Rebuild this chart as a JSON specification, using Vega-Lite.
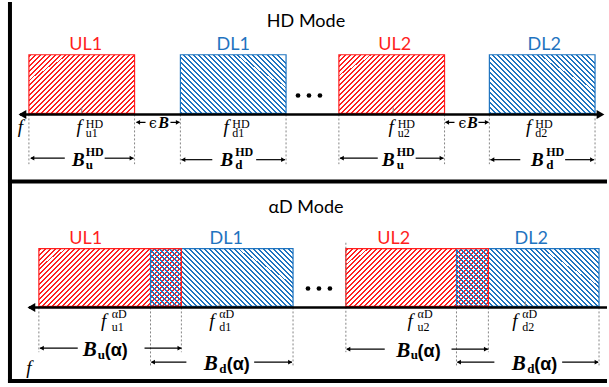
{
"$schema": "https://vega.github.io/schema/vega-lite/v6.json",
"width": 609, "height": 387,
"autosize": {"type": "fit", "contains": "padding"},
"padding": 0,
"background": "white",
"config": {"view": {"stroke": null}, "axis": {"disable": true}, "legend": {"disable": true}},
"datasets": {
"hdBoxes": [
{"link":"DL","x":181,"x2":287,"y":53,"y2":112},
{"link":"DL","x":491,"x2":597,"y":53,"y2":112},
{"link":"UL","x":29,"x2":135,"y":53,"y2":112},
{"link":"UL","x":340,"x2":446,"y":53,"y2":112}],
"adBoxes": [
{"link":"DL","x":151,"x2":294,"y":248,"y2":306},
{"link":"DL","x":458,"x2":601,"y":248,"y2":306},
{"link":"UL","x":39,"x2":182,"y":248,"y2":306},
{"link":"UL","x":347,"x2":490,"y":248,"y2":306}],
"frame": [
{"x":10,"x2":10,"y":0,"y2":383},
{"x":8,"x2":609,"y":180.5,"y2":180.5},
{"x":8,"x2":609,"y":381,"y2":381}],
"axisLines": [
{"x":20,"x2":604,"y":113,"y2":113},
{"x":29,"x2":609,"y":307,"y2":307}],
"dashes": [
{"x":29,"x2":29,"y":113,"y2":163},{"x":135,"x2":135,"y":113,"y2":163},
{"x":181,"x2":181,"y":113,"y2":163},{"x":287,"x2":287,"y":113,"y2":163},
{"x":340,"x2":340,"y":113,"y2":163},{"x":446,"x2":446,"y":113,"y2":163},
{"x":491,"x2":491,"y":113,"y2":163},{"x":597,"x2":597,"y":113,"y2":163},
{"x":39,"x2":39,"y":307,"y2":352},{"x":151,"x2":151,"y":307,"y2":366},
{"x":182,"x2":182,"y":307,"y2":352},{"x":294,"x2":294,"y":307,"y2":366},
{"x":347,"x2":347,"y":242,"y2":352},{"x":458,"x2":458,"y":307,"y2":366},
{"x":490,"x2":490,"y":307,"y2":352},{"x":601,"x2":601,"y":307,"y2":366}],
"ticks": [
{"x":82,"x2":82,"y":106,"y2":112},{"x":394.5,"x2":394.5,"y":106,"y2":112},{"x":543,"x2":543,"y":106,"y2":112},
{"x":220,"x2":220,"y":301,"y2":306},{"x":527,"x2":527,"y":301,"y2":306}],
"arrows": [
{"x":31,"x2":65,"y":157,"y2":157},{"x":105,"x2":134,"y":157,"y2":157},
{"x":182,"x2":213,"y":158.5,"y2":158.5},{"x":257,"x2":286,"y":158.5,"y2":158.5},
{"x":341,"x2":379,"y":157,"y2":157},{"x":417,"x2":445,"y":157,"y2":157},
{"x":492,"x2":522,"y":158.5,"y2":158.5},{"x":567,"x2":596,"y":158.5,"y2":158.5},
{"x":137,"x2":146,"y":121,"y2":121},{"x":171,"x2":180,"y":121,"y2":121},
{"x":447,"x2":456,"y":121,"y2":121},{"x":480,"x2":490,"y":121,"y2":121},
{"x":40,"x2":78,"y":348,"y2":348},{"x":145,"x2":182,"y":348,"y2":348},
{"x":152,"x2":187,"y":362,"y2":362},{"x":255,"x2":293,"y":362,"y2":362},
{"x":348,"x2":386,"y":349,"y2":349},{"x":453,"x2":490,"y":349,"y2":349},
{"x":459,"x2":496,"y":362,"y2":362},{"x":564,"x2":600,"y":362,"y2":362}],
"bigHeads": [
{"x":22.5,"y":113,"dir":"left"},{"x":602.5,"y":113,"dir":"right"},{"x":31.5,"y":307,"dir":"left"}],
"smallHeads": [
{"x":32.4,"y":157,"dir":"left"},{"x":132.1,"y":157,"dir":"right"},
{"x":183.9,"y":158.5,"dir":"left"},{"x":284.1,"y":158.5,"dir":"right"},
{"x":342.9,"y":157,"dir":"left"},{"x":443.1,"y":157,"dir":"right"},
{"x":493.9,"y":158.5,"dir":"left"},{"x":594.1,"y":158.5,"dir":"right"},
{"x":138.5,"y":121,"dir":"left"},{"x":178.5,"y":121,"dir":"right"},
{"x":448.5,"y":121,"dir":"left"},{"x":488.5,"y":121,"dir":"right"},
{"x":41.9,"y":348,"dir":"left"},{"x":180.1,"y":348,"dir":"right"},
{"x":153.4,"y":362,"dir":"left"},{"x":291.1,"y":362,"dir":"right"},
{"x":349.4,"y":349,"dir":"left"},{"x":487.6,"y":349,"dir":"right"},
{"x":460.4,"y":362,"dir":"left"},{"x":598.6,"y":362,"dir":"right"}],
"dots": [
{"x":299,"y":94},{"x":310,"y":94},{"x":321,"y":94},
{"x":309,"y":288},{"x":320,"y":288},{"x":331,"y":288}],
"titles": [
{"text":"HD Mode","x":307,"y":25},{"text":"αD Mode","x":307,"y":212}],
"linkLabels": [
{"text":"UL1","link":"UL","x":86,"y":48},{"text":"DL1","link":"DL","x":234,"y":48},
{"text":"UL2","link":"UL","x":396,"y":48},{"text":"DL2","link":"DL","x":546,"y":48},
{"text":"UL1","link":"UL","x":86,"y":243},{"text":"DL1","link":"DL","x":227,"y":243},
{"text":"UL2","link":"UL","x":395,"y":243},{"text":"DL2","link":"DL","x":533,"y":243}],
"axisF": [{"text":"f","x":20.5,"y":132},{"text":"f","x":29,"y":374}],
"fMain": [
{"text":"f","x":79.5,"y":132},{"text":"f","x":227,"y":132},{"text":"f","x":392.5,"y":132},{"text":"f","x":530.5,"y":132},
{"text":"f","x":104,"y":327},{"text":"f","x":212.5,"y":327},{"text":"f","x":411.5,"y":327},{"text":"f","x":516.5,"y":327}],
"fSup": [
{"text":"HD","x":86,"y":126.5},{"text":"HD","x":233,"y":126.5},{"text":"HD","x":399,"y":126.5},{"text":"HD","x":537,"y":126.5},
{"text":"αD","x":112,"y":318},{"text":"αD","x":220,"y":318},{"text":"αD","x":419,"y":318},{"text":"αD","x":524,"y":318}],
"fSub": [
{"text":"u1","x":86,"y":136},{"text":"d1","x":233,"y":136},{"text":"u2","x":399,"y":136},{"text":"d2","x":537,"y":136},
{"text":"u1","x":112,"y":330.5},{"text":"d1","x":220,"y":330.5},{"text":"u2","x":419,"y":330.5},{"text":"d2","x":524,"y":330.5}],
"bigBhd": [
{"text":"B","x":78.5,"y":165},{"text":"B","x":227.5,"y":165},{"text":"B","x":389.5,"y":165},{"text":"B","x":539,"y":165}],
"bSup": [
{"text":"HD","x":86,"y":155},{"text":"HD","x":236,"y":155},{"text":"HD","x":398,"y":155},{"text":"HD","x":548,"y":155}],
"bSub": [
{"text":"u","x":86,"y":167.5},{"text":"d","x":236,"y":167.5},{"text":"u","x":398,"y":167.5},{"text":"d","x":548,"y":167.5},
{"text":"u","x":98,"y":358.5},{"text":"d","x":220,"y":372.5},{"text":"u","x":412,"y":359},{"text":"d","x":529,"y":372.5}],
"bigBad": [
{"text":"B","x":90,"y":356},{"text":"B","x":211.5,"y":370},{"text":"B","x":404.5,"y":356.5},{"text":"B","x":520.5,"y":370}],
"alphaParen": [
{"text":"(α)","x":105,"y":356},{"text":"(α)","x":227.5,"y":370},{"text":"(α)","x":419,"y":356.5},{"text":"(α)","x":536,"y":370}],
"eps": [{"text":"ϵ","x":153.5,"y":127},{"text":"ϵ","x":464,"y":127}],
"epsB": [{"text":"B","x":164,"y":127},{"text":"B","x":474,"y":127}]
},
"encoding": {
"x": {"field": "x", "type": "quantitative", "scale": {"domain": [0, 609], "nice": false, "zero": false}},
"y": {"field": "y", "type": "quantitative", "scale": {"domain": [0, 387], "reverse": true, "nice": false, "zero": false}}
},
"layer": [
{"data": {"name": "hdBoxes"}, "transform": [{"filter": "datum.link == 'UL'"}],
 "mark": {"type": "rect", "strokeWidth": 0, "fill": {"gradient": "linear", "x1": 0, "y1": 0, "x2": 1.1524, "y2": 0.64143, "stops": [
{"offset":0.003125,"color":"transparent"},{"offset":0.003125,"color":"#ff1f1f"},{"offset":0.015625,"color":"#ff1f1f"},{"offset":0.015625,"color":"transparent"},
{"offset":0.034375,"color":"transparent"},{"offset":0.034375,"color":"#ff1f1f"},{"offset":0.046875,"color":"#ff1f1f"},{"offset":0.046875,"color":"transparent"},
{"offset":0.065625,"color":"transparent"},{"offset":0.065625,"color":"#ff1f1f"},{"offset":0.078125,"color":"#ff1f1f"},{"offset":0.078125,"color":"transparent"},
{"offset":0.096875,"color":"transparent"},{"offset":0.096875,"color":"#ff1f1f"},{"offset":0.109375,"color":"#ff1f1f"},{"offset":0.109375,"color":"transparent"},
{"offset":0.128125,"color":"transparent"},{"offset":0.128125,"color":"#ff1f1f"},{"offset":0.140625,"color":"#ff1f1f"},{"offset":0.140625,"color":"transparent"},
{"offset":0.159375,"color":"transparent"},{"offset":0.159375,"color":"#ff1f1f"},{"offset":0.171875,"color":"#ff1f1f"},{"offset":0.171875,"color":"transparent"},
{"offset":0.190625,"color":"transparent"},{"offset":0.190625,"color":"#ff1f1f"},{"offset":0.203125,"color":"#ff1f1f"},{"offset":0.203125,"color":"transparent"},
{"offset":0.221875,"color":"transparent"},{"offset":0.221875,"color":"#ff1f1f"},{"offset":0.234375,"color":"#ff1f1f"},{"offset":0.234375,"color":"transparent"},
{"offset":0.253125,"color":"transparent"},{"offset":0.253125,"color":"#ff1f1f"},{"offset":0.265625,"color":"#ff1f1f"},{"offset":0.265625,"color":"transparent"},
{"offset":0.284375,"color":"transparent"},{"offset":0.284375,"color":"#ff1f1f"},{"offset":0.296875,"color":"#ff1f1f"},{"offset":0.296875,"color":"transparent"},
{"offset":0.315625,"color":"transparent"},{"offset":0.315625,"color":"#ff1f1f"},{"offset":0.328125,"color":"#ff1f1f"},{"offset":0.328125,"color":"transparent"},
{"offset":0.346875,"color":"transparent"},{"offset":0.346875,"color":"#ff1f1f"},{"offset":0.359375,"color":"#ff1f1f"},{"offset":0.359375,"color":"transparent"},
{"offset":0.378125,"color":"transparent"},{"offset":0.378125,"color":"#ff1f1f"},{"offset":0.390625,"color":"#ff1f1f"},{"offset":0.390625,"color":"transparent"},
{"offset":0.409375,"color":"transparent"},{"offset":0.409375,"color":"#ff1f1f"},{"offset":0.421875,"color":"#ff1f1f"},{"offset":0.421875,"color":"transparent"},
{"offset":0.440625,"color":"transparent"},{"offset":0.440625,"color":"#ff1f1f"},{"offset":0.453125,"color":"#ff1f1f"},{"offset":0.453125,"color":"transparent"},
{"offset":0.471875,"color":"transparent"},{"offset":0.471875,"color":"#ff1f1f"},{"offset":0.484375,"color":"#ff1f1f"},{"offset":0.484375,"color":"transparent"},
{"offset":0.503125,"color":"transparent"},{"offset":0.503125,"color":"#ff1f1f"},{"offset":0.515625,"color":"#ff1f1f"},{"offset":0.515625,"color":"transparent"},
{"offset":0.534375,"color":"transparent"},{"offset":0.534375,"color":"#ff1f1f"},{"offset":0.546875,"color":"#ff1f1f"},{"offset":0.546875,"color":"transparent"},
{"offset":0.565625,"color":"transparent"},{"offset":0.565625,"color":"#ff1f1f"},{"offset":0.578125,"color":"#ff1f1f"},{"offset":0.578125,"color":"transparent"},
{"offset":0.596875,"color":"transparent"},{"offset":0.596875,"color":"#ff1f1f"},{"offset":0.609375,"color":"#ff1f1f"},{"offset":0.609375,"color":"transparent"},
{"offset":0.628125,"color":"transparent"},{"offset":0.628125,"color":"#ff1f1f"},{"offset":0.640625,"color":"#ff1f1f"},{"offset":0.640625,"color":"transparent"},
{"offset":0.659375,"color":"transparent"},{"offset":0.659375,"color":"#ff1f1f"},{"offset":0.671875,"color":"#ff1f1f"},{"offset":0.671875,"color":"transparent"},
{"offset":0.690625,"color":"transparent"},{"offset":0.690625,"color":"#ff1f1f"},{"offset":0.703125,"color":"#ff1f1f"},{"offset":0.703125,"color":"transparent"},
{"offset":0.721875,"color":"transparent"},{"offset":0.721875,"color":"#ff1f1f"},{"offset":0.734375,"color":"#ff1f1f"},{"offset":0.734375,"color":"transparent"},
{"offset":0.753125,"color":"transparent"},{"offset":0.753125,"color":"#ff1f1f"},{"offset":0.765625,"color":"#ff1f1f"},{"offset":0.765625,"color":"transparent"},
{"offset":0.784375,"color":"transparent"},{"offset":0.784375,"color":"#ff1f1f"},{"offset":0.796875,"color":"#ff1f1f"},{"offset":0.796875,"color":"transparent"},
{"offset":0.815625,"color":"transparent"},{"offset":0.815625,"color":"#ff1f1f"},{"offset":0.828125,"color":"#ff1f1f"},{"offset":0.828125,"color":"transparent"},
{"offset":0.846875,"color":"transparent"},{"offset":0.846875,"color":"#ff1f1f"},{"offset":0.859375,"color":"#ff1f1f"},{"offset":0.859375,"color":"transparent"},
{"offset":0.878125,"color":"transparent"},{"offset":0.878125,"color":"#ff1f1f"},{"offset":0.890625,"color":"#ff1f1f"},{"offset":0.890625,"color":"transparent"},
{"offset":0.909375,"color":"transparent"},{"offset":0.909375,"color":"#ff1f1f"},{"offset":0.921875,"color":"#ff1f1f"},{"offset":0.921875,"color":"transparent"},
{"offset":0.940625,"color":"transparent"},{"offset":0.940625,"color":"#ff1f1f"},{"offset":0.953125,"color":"#ff1f1f"},{"offset":0.953125,"color":"transparent"},
{"offset":0.971875,"color":"transparent"},{"offset":0.971875,"color":"#ff1f1f"},{"offset":0.984375,"color":"#ff1f1f"},{"offset":0.984375,"color":"transparent"}]}},
 "encoding": {"x2": {"field": "x2"}, "y2": {"field": "y2"}}},
{"data": {"name": "hdBoxes"}, "transform": [{"filter": "datum.link == 'DL'"}],
 "mark": {"type": "rect", "strokeWidth": 0, "fill": {"gradient": "linear", "x1": 0, "y1": 1, "x2": 1.1524, "y2": 0.35857, "stops": [
{"offset":0.003125,"color":"transparent"},{"offset":0.003125,"color":"#1f74c0"},{"offset":0.015625,"color":"#1f74c0"},{"offset":0.015625,"color":"transparent"},
{"offset":0.034375,"color":"transparent"},{"offset":0.034375,"color":"#1f74c0"},{"offset":0.046875,"color":"#1f74c0"},{"offset":0.046875,"color":"transparent"},
{"offset":0.065625,"color":"transparent"},{"offset":0.065625,"color":"#1f74c0"},{"offset":0.078125,"color":"#1f74c0"},{"offset":0.078125,"color":"transparent"},
{"offset":0.096875,"color":"transparent"},{"offset":0.096875,"color":"#1f74c0"},{"offset":0.109375,"color":"#1f74c0"},{"offset":0.109375,"color":"transparent"},
{"offset":0.128125,"color":"transparent"},{"offset":0.128125,"color":"#1f74c0"},{"offset":0.140625,"color":"#1f74c0"},{"offset":0.140625,"color":"transparent"},
{"offset":0.159375,"color":"transparent"},{"offset":0.159375,"color":"#1f74c0"},{"offset":0.171875,"color":"#1f74c0"},{"offset":0.171875,"color":"transparent"},
{"offset":0.190625,"color":"transparent"},{"offset":0.190625,"color":"#1f74c0"},{"offset":0.203125,"color":"#1f74c0"},{"offset":0.203125,"color":"transparent"},
{"offset":0.221875,"color":"transparent"},{"offset":0.221875,"color":"#1f74c0"},{"offset":0.234375,"color":"#1f74c0"},{"offset":0.234375,"color":"transparent"},
{"offset":0.253125,"color":"transparent"},{"offset":0.253125,"color":"#1f74c0"},{"offset":0.265625,"color":"#1f74c0"},{"offset":0.265625,"color":"transparent"},
{"offset":0.284375,"color":"transparent"},{"offset":0.284375,"color":"#1f74c0"},{"offset":0.296875,"color":"#1f74c0"},{"offset":0.296875,"color":"transparent"},
{"offset":0.315625,"color":"transparent"},{"offset":0.315625,"color":"#1f74c0"},{"offset":0.328125,"color":"#1f74c0"},{"offset":0.328125,"color":"transparent"},
{"offset":0.346875,"color":"transparent"},{"offset":0.346875,"color":"#1f74c0"},{"offset":0.359375,"color":"#1f74c0"},{"offset":0.359375,"color":"transparent"},
{"offset":0.378125,"color":"transparent"},{"offset":0.378125,"color":"#1f74c0"},{"offset":0.390625,"color":"#1f74c0"},{"offset":0.390625,"color":"transparent"},
{"offset":0.409375,"color":"transparent"},{"offset":0.409375,"color":"#1f74c0"},{"offset":0.421875,"color":"#1f74c0"},{"offset":0.421875,"color":"transparent"},
{"offset":0.440625,"color":"transparent"},{"offset":0.440625,"color":"#1f74c0"},{"offset":0.453125,"color":"#1f74c0"},{"offset":0.453125,"color":"transparent"},
{"offset":0.471875,"color":"transparent"},{"offset":0.471875,"color":"#1f74c0"},{"offset":0.484375,"color":"#1f74c0"},{"offset":0.484375,"color":"transparent"},
{"offset":0.503125,"color":"transparent"},{"offset":0.503125,"color":"#1f74c0"},{"offset":0.515625,"color":"#1f74c0"},{"offset":0.515625,"color":"transparent"},
{"offset":0.534375,"color":"transparent"},{"offset":0.534375,"color":"#1f74c0"},{"offset":0.546875,"color":"#1f74c0"},{"offset":0.546875,"color":"transparent"},
{"offset":0.565625,"color":"transparent"},{"offset":0.565625,"color":"#1f74c0"},{"offset":0.578125,"color":"#1f74c0"},{"offset":0.578125,"color":"transparent"},
{"offset":0.596875,"color":"transparent"},{"offset":0.596875,"color":"#1f74c0"},{"offset":0.609375,"color":"#1f74c0"},{"offset":0.609375,"color":"transparent"},
{"offset":0.628125,"color":"transparent"},{"offset":0.628125,"color":"#1f74c0"},{"offset":0.640625,"color":"#1f74c0"},{"offset":0.640625,"color":"transparent"},
{"offset":0.659375,"color":"transparent"},{"offset":0.659375,"color":"#1f74c0"},{"offset":0.671875,"color":"#1f74c0"},{"offset":0.671875,"color":"transparent"},
{"offset":0.690625,"color":"transparent"},{"offset":0.690625,"color":"#1f74c0"},{"offset":0.703125,"color":"#1f74c0"},{"offset":0.703125,"color":"transparent"},
{"offset":0.721875,"color":"transparent"},{"offset":0.721875,"color":"#1f74c0"},{"offset":0.734375,"color":"#1f74c0"},{"offset":0.734375,"color":"transparent"},
{"offset":0.753125,"color":"transparent"},{"offset":0.753125,"color":"#1f74c0"},{"offset":0.765625,"color":"#1f74c0"},{"offset":0.765625,"color":"transparent"},
{"offset":0.784375,"color":"transparent"},{"offset":0.784375,"color":"#1f74c0"},{"offset":0.796875,"color":"#1f74c0"},{"offset":0.796875,"color":"transparent"},
{"offset":0.815625,"color":"transparent"},{"offset":0.815625,"color":"#1f74c0"},{"offset":0.828125,"color":"#1f74c0"},{"offset":0.828125,"color":"transparent"},
{"offset":0.846875,"color":"transparent"},{"offset":0.846875,"color":"#1f74c0"},{"offset":0.859375,"color":"#1f74c0"},{"offset":0.859375,"color":"transparent"},
{"offset":0.878125,"color":"transparent"},{"offset":0.878125,"color":"#1f74c0"},{"offset":0.890625,"color":"#1f74c0"},{"offset":0.890625,"color":"transparent"},
{"offset":0.909375,"color":"transparent"},{"offset":0.909375,"color":"#1f74c0"},{"offset":0.921875,"color":"#1f74c0"},{"offset":0.921875,"color":"transparent"},
{"offset":0.940625,"color":"transparent"},{"offset":0.940625,"color":"#1f74c0"},{"offset":0.953125,"color":"#1f74c0"},{"offset":0.953125,"color":"transparent"},
{"offset":0.971875,"color":"transparent"},{"offset":0.971875,"color":"#1f74c0"},{"offset":0.984375,"color":"#1f74c0"},{"offset":0.984375,"color":"transparent"}]}},
 "encoding": {"x2": {"field": "x2"}, "y2": {"field": "y2"}}},
{"data": {"name": "hdBoxes"},
 "mark": {"type": "rect", "filled": false, "strokeWidth": 1.2},
 "encoding": {"x2": {"field": "x2"}, "y2": {"field": "y2"},
   "color": {"field": "link", "type": "nominal", "scale": {"domain": ["UL", "DL"], "range": ["#ff1f1f", "#1f74c0"]}}}},
{"data": {"name": "adBoxes"}, "transform": [{"filter": "datum.link == 'UL'"}],
 "mark": {"type": "rect", "strokeWidth": 0, "fill": {"gradient": "linear", "x1": 0, "y1": 0, "x2": 1.20103, "y2": 0.48713, "stops": [
{"offset":0.0025,"color":"transparent"},{"offset":0.0025,"color":"#ff1f1f"},{"offset":0.0125,"color":"#ff1f1f"},{"offset":0.0125,"color":"transparent"},
{"offset":0.0275,"color":"transparent"},{"offset":0.0275,"color":"#ff1f1f"},{"offset":0.0375,"color":"#ff1f1f"},{"offset":0.0375,"color":"transparent"},
{"offset":0.0525,"color":"transparent"},{"offset":0.0525,"color":"#ff1f1f"},{"offset":0.0625,"color":"#ff1f1f"},{"offset":0.0625,"color":"transparent"},
{"offset":0.0775,"color":"transparent"},{"offset":0.0775,"color":"#ff1f1f"},{"offset":0.0875,"color":"#ff1f1f"},{"offset":0.0875,"color":"transparent"},
{"offset":0.1025,"color":"transparent"},{"offset":0.1025,"color":"#ff1f1f"},{"offset":0.1125,"color":"#ff1f1f"},{"offset":0.1125,"color":"transparent"},
{"offset":0.1275,"color":"transparent"},{"offset":0.1275,"color":"#ff1f1f"},{"offset":0.1375,"color":"#ff1f1f"},{"offset":0.1375,"color":"transparent"},
{"offset":0.1525,"color":"transparent"},{"offset":0.1525,"color":"#ff1f1f"},{"offset":0.1625,"color":"#ff1f1f"},{"offset":0.1625,"color":"transparent"},
{"offset":0.1775,"color":"transparent"},{"offset":0.1775,"color":"#ff1f1f"},{"offset":0.1875,"color":"#ff1f1f"},{"offset":0.1875,"color":"transparent"},
{"offset":0.2025,"color":"transparent"},{"offset":0.2025,"color":"#ff1f1f"},{"offset":0.2125,"color":"#ff1f1f"},{"offset":0.2125,"color":"transparent"},
{"offset":0.2275,"color":"transparent"},{"offset":0.2275,"color":"#ff1f1f"},{"offset":0.2375,"color":"#ff1f1f"},{"offset":0.2375,"color":"transparent"},
{"offset":0.2525,"color":"transparent"},{"offset":0.2525,"color":"#ff1f1f"},{"offset":0.2625,"color":"#ff1f1f"},{"offset":0.2625,"color":"transparent"},
{"offset":0.2775,"color":"transparent"},{"offset":0.2775,"color":"#ff1f1f"},{"offset":0.2875,"color":"#ff1f1f"},{"offset":0.2875,"color":"transparent"},
{"offset":0.3025,"color":"transparent"},{"offset":0.3025,"color":"#ff1f1f"},{"offset":0.3125,"color":"#ff1f1f"},{"offset":0.3125,"color":"transparent"},
{"offset":0.3275,"color":"transparent"},{"offset":0.3275,"color":"#ff1f1f"},{"offset":0.3375,"color":"#ff1f1f"},{"offset":0.3375,"color":"transparent"},
{"offset":0.3525,"color":"transparent"},{"offset":0.3525,"color":"#ff1f1f"},{"offset":0.3625,"color":"#ff1f1f"},{"offset":0.3625,"color":"transparent"},
{"offset":0.3775,"color":"transparent"},{"offset":0.3775,"color":"#ff1f1f"},{"offset":0.3875,"color":"#ff1f1f"},{"offset":0.3875,"color":"transparent"},
{"offset":0.4025,"color":"transparent"},{"offset":0.4025,"color":"#ff1f1f"},{"offset":0.4125,"color":"#ff1f1f"},{"offset":0.4125,"color":"transparent"},
{"offset":0.4275,"color":"transparent"},{"offset":0.4275,"color":"#ff1f1f"},{"offset":0.4375,"color":"#ff1f1f"},{"offset":0.4375,"color":"transparent"},
{"offset":0.4525,"color":"transparent"},{"offset":0.4525,"color":"#ff1f1f"},{"offset":0.4625,"color":"#ff1f1f"},{"offset":0.4625,"color":"transparent"},
{"offset":0.4775,"color":"transparent"},{"offset":0.4775,"color":"#ff1f1f"},{"offset":0.4875,"color":"#ff1f1f"},{"offset":0.4875,"color":"transparent"},
{"offset":0.5025,"color":"transparent"},{"offset":0.5025,"color":"#ff1f1f"},{"offset":0.5125,"color":"#ff1f1f"},{"offset":0.5125,"color":"transparent"},
{"offset":0.5275,"color":"transparent"},{"offset":0.5275,"color":"#ff1f1f"},{"offset":0.5375,"color":"#ff1f1f"},{"offset":0.5375,"color":"transparent"},
{"offset":0.5525,"color":"transparent"},{"offset":0.5525,"color":"#ff1f1f"},{"offset":0.5625,"color":"#ff1f1f"},{"offset":0.5625,"color":"transparent"},
{"offset":0.5775,"color":"transparent"},{"offset":0.5775,"color":"#ff1f1f"},{"offset":0.5875,"color":"#ff1f1f"},{"offset":0.5875,"color":"transparent"},
{"offset":0.6025,"color":"transparent"},{"offset":0.6025,"color":"#ff1f1f"},{"offset":0.6125,"color":"#ff1f1f"},{"offset":0.6125,"color":"transparent"},
{"offset":0.6275,"color":"transparent"},{"offset":0.6275,"color":"#ff1f1f"},{"offset":0.6375,"color":"#ff1f1f"},{"offset":0.6375,"color":"transparent"},
{"offset":0.6525,"color":"transparent"},{"offset":0.6525,"color":"#ff1f1f"},{"offset":0.6625,"color":"#ff1f1f"},{"offset":0.6625,"color":"transparent"},
{"offset":0.6775,"color":"transparent"},{"offset":0.6775,"color":"#ff1f1f"},{"offset":0.6875,"color":"#ff1f1f"},{"offset":0.6875,"color":"transparent"},
{"offset":0.7025,"color":"transparent"},{"offset":0.7025,"color":"#ff1f1f"},{"offset":0.7125,"color":"#ff1f1f"},{"offset":0.7125,"color":"transparent"},
{"offset":0.7275,"color":"transparent"},{"offset":0.7275,"color":"#ff1f1f"},{"offset":0.7375,"color":"#ff1f1f"},{"offset":0.7375,"color":"transparent"},
{"offset":0.7525,"color":"transparent"},{"offset":0.7525,"color":"#ff1f1f"},{"offset":0.7625,"color":"#ff1f1f"},{"offset":0.7625,"color":"transparent"},
{"offset":0.7775,"color":"transparent"},{"offset":0.7775,"color":"#ff1f1f"},{"offset":0.7875,"color":"#ff1f1f"},{"offset":0.7875,"color":"transparent"},
{"offset":0.8025,"color":"transparent"},{"offset":0.8025,"color":"#ff1f1f"},{"offset":0.8125,"color":"#ff1f1f"},{"offset":0.8125,"color":"transparent"},
{"offset":0.8275,"color":"transparent"},{"offset":0.8275,"color":"#ff1f1f"},{"offset":0.8375,"color":"#ff1f1f"},{"offset":0.8375,"color":"transparent"},
{"offset":0.8525,"color":"transparent"},{"offset":0.8525,"color":"#ff1f1f"},{"offset":0.8625,"color":"#ff1f1f"},{"offset":0.8625,"color":"transparent"},
{"offset":0.8775,"color":"transparent"},{"offset":0.8775,"color":"#ff1f1f"},{"offset":0.8875,"color":"#ff1f1f"},{"offset":0.8875,"color":"transparent"},
{"offset":0.9025,"color":"transparent"},{"offset":0.9025,"color":"#ff1f1f"},{"offset":0.9125,"color":"#ff1f1f"},{"offset":0.9125,"color":"transparent"},
{"offset":0.9275,"color":"transparent"},{"offset":0.9275,"color":"#ff1f1f"},{"offset":0.9375,"color":"#ff1f1f"},{"offset":0.9375,"color":"transparent"},
{"offset":0.9525,"color":"transparent"},{"offset":0.9525,"color":"#ff1f1f"},{"offset":0.9625,"color":"#ff1f1f"},{"offset":0.9625,"color":"transparent"},
{"offset":0.9775,"color":"transparent"},{"offset":0.9775,"color":"#ff1f1f"},{"offset":0.9875,"color":"#ff1f1f"},{"offset":0.9875,"color":"transparent"}]}},
 "encoding": {"x2": {"field": "x2"}, "y2": {"field": "y2"}}},
{"data": {"name": "adBoxes"}, "transform": [{"filter": "datum.link == 'DL'"}],
 "mark": {"type": "rect", "strokeWidth": 0, "fill": {"gradient": "linear", "x1": 0, "y1": 1, "x2": 1.20103, "y2": 0.51287, "stops": [
{"offset":0.0025,"color":"transparent"},{"offset":0.0025,"color":"#1f74c0"},{"offset":0.0125,"color":"#1f74c0"},{"offset":0.0125,"color":"transparent"},
{"offset":0.0275,"color":"transparent"},{"offset":0.0275,"color":"#1f74c0"},{"offset":0.0375,"color":"#1f74c0"},{"offset":0.0375,"color":"transparent"},
{"offset":0.0525,"color":"transparent"},{"offset":0.0525,"color":"#1f74c0"},{"offset":0.0625,"color":"#1f74c0"},{"offset":0.0625,"color":"transparent"},
{"offset":0.0775,"color":"transparent"},{"offset":0.0775,"color":"#1f74c0"},{"offset":0.0875,"color":"#1f74c0"},{"offset":0.0875,"color":"transparent"},
{"offset":0.1025,"color":"transparent"},{"offset":0.1025,"color":"#1f74c0"},{"offset":0.1125,"color":"#1f74c0"},{"offset":0.1125,"color":"transparent"},
{"offset":0.1275,"color":"transparent"},{"offset":0.1275,"color":"#1f74c0"},{"offset":0.1375,"color":"#1f74c0"},{"offset":0.1375,"color":"transparent"},
{"offset":0.1525,"color":"transparent"},{"offset":0.1525,"color":"#1f74c0"},{"offset":0.1625,"color":"#1f74c0"},{"offset":0.1625,"color":"transparent"},
{"offset":0.1775,"color":"transparent"},{"offset":0.1775,"color":"#1f74c0"},{"offset":0.1875,"color":"#1f74c0"},{"offset":0.1875,"color":"transparent"},
{"offset":0.2025,"color":"transparent"},{"offset":0.2025,"color":"#1f74c0"},{"offset":0.2125,"color":"#1f74c0"},{"offset":0.2125,"color":"transparent"},
{"offset":0.2275,"color":"transparent"},{"offset":0.2275,"color":"#1f74c0"},{"offset":0.2375,"color":"#1f74c0"},{"offset":0.2375,"color":"transparent"},
{"offset":0.2525,"color":"transparent"},{"offset":0.2525,"color":"#1f74c0"},{"offset":0.2625,"color":"#1f74c0"},{"offset":0.2625,"color":"transparent"},
{"offset":0.2775,"color":"transparent"},{"offset":0.2775,"color":"#1f74c0"},{"offset":0.2875,"color":"#1f74c0"},{"offset":0.2875,"color":"transparent"},
{"offset":0.3025,"color":"transparent"},{"offset":0.3025,"color":"#1f74c0"},{"offset":0.3125,"color":"#1f74c0"},{"offset":0.3125,"color":"transparent"},
{"offset":0.3275,"color":"transparent"},{"offset":0.3275,"color":"#1f74c0"},{"offset":0.3375,"color":"#1f74c0"},{"offset":0.3375,"color":"transparent"},
{"offset":0.3525,"color":"transparent"},{"offset":0.3525,"color":"#1f74c0"},{"offset":0.3625,"color":"#1f74c0"},{"offset":0.3625,"color":"transparent"},
{"offset":0.3775,"color":"transparent"},{"offset":0.3775,"color":"#1f74c0"},{"offset":0.3875,"color":"#1f74c0"},{"offset":0.3875,"color":"transparent"},
{"offset":0.4025,"color":"transparent"},{"offset":0.4025,"color":"#1f74c0"},{"offset":0.4125,"color":"#1f74c0"},{"offset":0.4125,"color":"transparent"},
{"offset":0.4275,"color":"transparent"},{"offset":0.4275,"color":"#1f74c0"},{"offset":0.4375,"color":"#1f74c0"},{"offset":0.4375,"color":"transparent"},
{"offset":0.4525,"color":"transparent"},{"offset":0.4525,"color":"#1f74c0"},{"offset":0.4625,"color":"#1f74c0"},{"offset":0.4625,"color":"transparent"},
{"offset":0.4775,"color":"transparent"},{"offset":0.4775,"color":"#1f74c0"},{"offset":0.4875,"color":"#1f74c0"},{"offset":0.4875,"color":"transparent"},
{"offset":0.5025,"color":"transparent"},{"offset":0.5025,"color":"#1f74c0"},{"offset":0.5125,"color":"#1f74c0"},{"offset":0.5125,"color":"transparent"},
{"offset":0.5275,"color":"transparent"},{"offset":0.5275,"color":"#1f74c0"},{"offset":0.5375,"color":"#1f74c0"},{"offset":0.5375,"color":"transparent"},
{"offset":0.5525,"color":"transparent"},{"offset":0.5525,"color":"#1f74c0"},{"offset":0.5625,"color":"#1f74c0"},{"offset":0.5625,"color":"transparent"},
{"offset":0.5775,"color":"transparent"},{"offset":0.5775,"color":"#1f74c0"},{"offset":0.5875,"color":"#1f74c0"},{"offset":0.5875,"color":"transparent"},
{"offset":0.6025,"color":"transparent"},{"offset":0.6025,"color":"#1f74c0"},{"offset":0.6125,"color":"#1f74c0"},{"offset":0.6125,"color":"transparent"},
{"offset":0.6275,"color":"transparent"},{"offset":0.6275,"color":"#1f74c0"},{"offset":0.6375,"color":"#1f74c0"},{"offset":0.6375,"color":"transparent"},
{"offset":0.6525,"color":"transparent"},{"offset":0.6525,"color":"#1f74c0"},{"offset":0.6625,"color":"#1f74c0"},{"offset":0.6625,"color":"transparent"},
{"offset":0.6775,"color":"transparent"},{"offset":0.6775,"color":"#1f74c0"},{"offset":0.6875,"color":"#1f74c0"},{"offset":0.6875,"color":"transparent"},
{"offset":0.7025,"color":"transparent"},{"offset":0.7025,"color":"#1f74c0"},{"offset":0.7125,"color":"#1f74c0"},{"offset":0.7125,"color":"transparent"},
{"offset":0.7275,"color":"transparent"},{"offset":0.7275,"color":"#1f74c0"},{"offset":0.7375,"color":"#1f74c0"},{"offset":0.7375,"color":"transparent"},
{"offset":0.7525,"color":"transparent"},{"offset":0.7525,"color":"#1f74c0"},{"offset":0.7625,"color":"#1f74c0"},{"offset":0.7625,"color":"transparent"},
{"offset":0.7775,"color":"transparent"},{"offset":0.7775,"color":"#1f74c0"},{"offset":0.7875,"color":"#1f74c0"},{"offset":0.7875,"color":"transparent"},
{"offset":0.8025,"color":"transparent"},{"offset":0.8025,"color":"#1f74c0"},{"offset":0.8125,"color":"#1f74c0"},{"offset":0.8125,"color":"transparent"},
{"offset":0.8275,"color":"transparent"},{"offset":0.8275,"color":"#1f74c0"},{"offset":0.8375,"color":"#1f74c0"},{"offset":0.8375,"color":"transparent"},
{"offset":0.8525,"color":"transparent"},{"offset":0.8525,"color":"#1f74c0"},{"offset":0.8625,"color":"#1f74c0"},{"offset":0.8625,"color":"transparent"},
{"offset":0.8775,"color":"transparent"},{"offset":0.8775,"color":"#1f74c0"},{"offset":0.8875,"color":"#1f74c0"},{"offset":0.8875,"color":"transparent"},
{"offset":0.9025,"color":"transparent"},{"offset":0.9025,"color":"#1f74c0"},{"offset":0.9125,"color":"#1f74c0"},{"offset":0.9125,"color":"transparent"},
{"offset":0.9275,"color":"transparent"},{"offset":0.9275,"color":"#1f74c0"},{"offset":0.9375,"color":"#1f74c0"},{"offset":0.9375,"color":"transparent"},
{"offset":0.9525,"color":"transparent"},{"offset":0.9525,"color":"#1f74c0"},{"offset":0.9625,"color":"#1f74c0"},{"offset":0.9625,"color":"transparent"},
{"offset":0.9775,"color":"transparent"},{"offset":0.9775,"color":"#1f74c0"},{"offset":0.9875,"color":"#1f74c0"},{"offset":0.9875,"color":"transparent"}]}},
 "encoding": {"x2": {"field": "x2"}, "y2": {"field": "y2"}}},
{"data": {"name": "adBoxes"},
 "mark": {"type": "rect", "filled": false, "strokeWidth": 1.2},
 "encoding": {"x2": {"field": "x2"}, "y2": {"field": "y2"},
   "color": {"field": "link", "type": "nominal", "scale": {"domain": ["UL", "DL"], "range": ["#ff1f1f", "#1f74c0"]}}}},
{"data": {"name": "ticks"}, "mark": {"type": "rule", "color": "#8a8a8a", "strokeWidth": 1},
 "encoding": {"x2": {"field": "x2"}, "y2": {"field": "y2"}}},
{"data": {"name": "dashes"}, "mark": {"type": "rule", "color": "#666666", "strokeWidth": 0.8, "strokeDash": [2, 2]},
 "encoding": {"x2": {"field": "x2"}, "y2": {"field": "y2"}}},
{"data": {"name": "frame"}, "mark": {"type": "rule", "color": "black", "strokeWidth": 4},
 "encoding": {"x2": {"field": "x2"}, "y2": {"field": "y2"}}},
{"data": {"name": "axisLines"}, "mark": {"type": "rule", "color": "black", "strokeWidth": 2.5},
 "encoding": {"x2": {"field": "x2"}, "y2": {"field": "y2"}}},
{"data": {"name": "arrows"}, "mark": {"type": "rule", "color": "black", "strokeWidth": 1.2},
 "encoding": {"x2": {"field": "x2"}, "y2": {"field": "y2"}}},
{"data": {"name": "bigHeads"}, "mark": {"type": "point", "filled": true, "color": "black", "opacity": 1, "size": 80, "strokeWidth": 0},
 "encoding": {"shape": {"field": "dir", "type": "nominal", "scale": {"domain": ["left", "right"], "range": ["triangle-left", "triangle-right"]}}}},
{"data": {"name": "smallHeads"}, "mark": {"type": "point", "filled": true, "color": "black", "opacity": 1, "size": 22, "strokeWidth": 0},
 "encoding": {"shape": {"field": "dir", "type": "nominal", "scale": {"domain": ["left", "right"], "range": ["triangle-left", "triangle-right"]}}}},
{"data": {"name": "dots"}, "mark": {"type": "point", "shape": "circle", "filled": true, "color": "black", "opacity": 1, "size": 22, "strokeWidth": 0}},
{"data": {"name": "titles"}, "mark": {"type": "text", "font": "Lato", "fontSize": 18, "color": "black", "align": "center", "baseline": "alphabetic"},
 "encoding": {"text": {"field": "text"}}},
{"data": {"name": "linkLabels"}, "mark": {"type": "text", "font": "Lato", "fontSize": 18, "align": "center", "baseline": "alphabetic"},
 "encoding": {"text": {"field": "text"},
   "color": {"field": "link", "type": "nominal", "scale": {"domain": ["UL", "DL"], "range": ["#ff1f1f", "#1f74c0"]}}}},
{"data": {"name": "axisF"}, "mark": {"type": "text", "font": "Liberation Serif", "fontStyle": "italic", "fontSize": 19, "color": "black", "align": "center", "baseline": "alphabetic"},
 "encoding": {"text": {"field": "text"}}},
{"data": {"name": "fMain"}, "mark": {"type": "text", "font": "Liberation Serif", "fontStyle": "italic", "fontSize": 19, "color": "black", "align": "center", "baseline": "alphabetic"},
 "encoding": {"text": {"field": "text"}}},
{"data": {"name": "fSup"}, "mark": {"type": "text", "font": "Liberation Serif", "fontSize": 12, "color": "black", "align": "left", "baseline": "alphabetic"},
 "encoding": {"text": {"field": "text"}}},
{"data": {"name": "fSub"}, "mark": {"type": "text", "font": "Liberation Serif", "fontSize": 12, "color": "black", "align": "left", "baseline": "alphabetic"},
 "encoding": {"text": {"field": "text"}}},
{"data": {"name": "bigBhd"}, "mark": {"type": "text", "font": "Liberation Serif", "fontStyle": "italic", "fontWeight": "bold", "fontSize": 19, "color": "black", "align": "center", "baseline": "alphabetic"},
 "encoding": {"text": {"field": "text"}}},
{"data": {"name": "bSup"}, "mark": {"type": "text", "font": "Liberation Serif", "fontWeight": "bold", "fontSize": 12, "color": "black", "align": "left", "baseline": "alphabetic"},
 "encoding": {"text": {"field": "text"}}},
{"data": {"name": "bSub"}, "mark": {"type": "text", "font": "Liberation Serif", "fontWeight": "bold", "fontSize": 13, "color": "black", "align": "left", "baseline": "alphabetic"},
 "encoding": {"text": {"field": "text"}}},
{"data": {"name": "bigBad"}, "mark": {"type": "text", "font": "Liberation Serif", "fontStyle": "italic", "fontWeight": "bold", "fontSize": 21, "color": "black", "align": "center", "baseline": "alphabetic"},
 "encoding": {"text": {"field": "text"}}},
{"data": {"name": "alphaParen"}, "mark": {"type": "text", "font": "Liberation Sans", "fontWeight": "bold", "fontSize": 18, "color": "black", "align": "left", "baseline": "alphabetic"},
 "encoding": {"text": {"field": "text"}}},
{"data": {"name": "eps"}, "mark": {"type": "text", "font": "DejaVu Serif", "fontSize": 14, "color": "black", "align": "center", "baseline": "alphabetic"},
 "encoding": {"text": {"field": "text"}}},
{"data": {"name": "epsB"}, "mark": {"type": "text", "font": "Liberation Serif", "fontStyle": "italic", "fontWeight": "bold", "fontSize": 16, "color": "black", "align": "center", "baseline": "alphabetic"},
 "encoding": {"text": {"field": "text"}}}
]
}
